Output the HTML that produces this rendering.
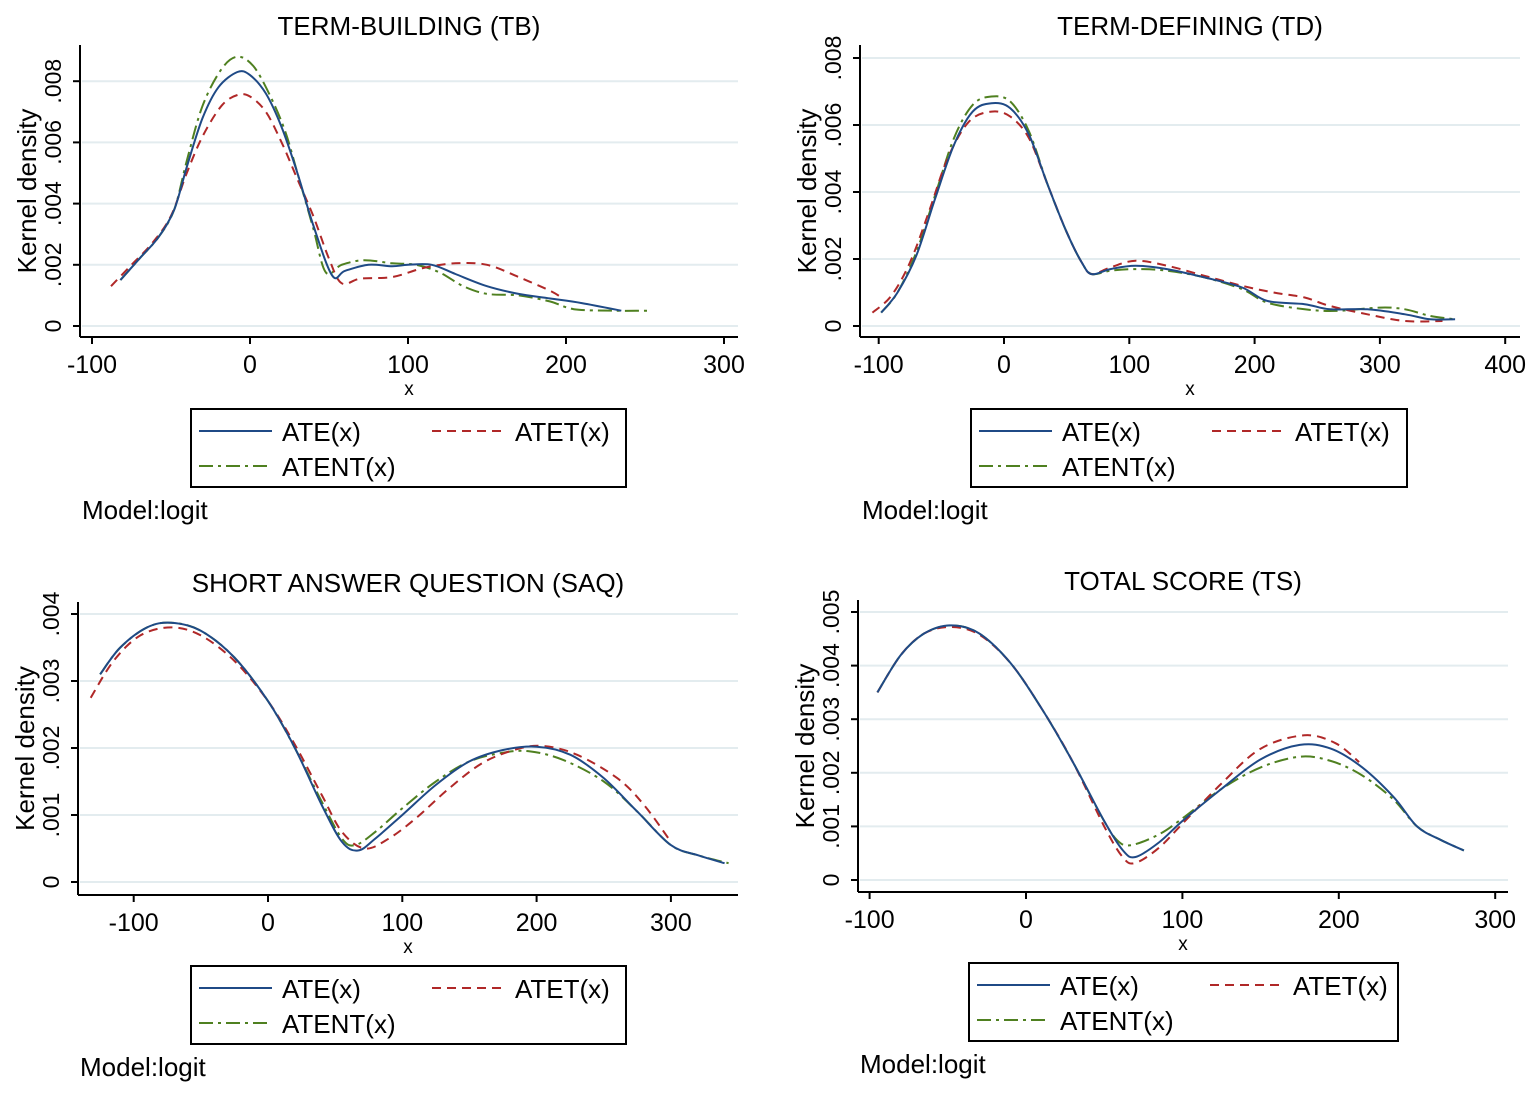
<!DOCTYPE html>
<html><head><meta charset="utf-8"><style>
body{margin:0;background:#fff;}
svg{display:block;font-family:"Liberation Sans",Arial,sans-serif;}
</style></head><body>
<svg id="s" width="1535" height="1096" viewBox="0 0 1535 1096" xmlns="http://www.w3.org/2000/svg"></svg>
<script>
const S=document.getElementById('s');let h='';
const C={b:'#1f4a86',r:'#b02828',g:'#4f8020'};
function sm(pts){let d='M'+pts[0][0].toFixed(1)+','+pts[0][1].toFixed(1);
for(let i=0;i<pts.length-1;i++){const p0=pts[i-1]||pts[i],p1=pts[i],p2=pts[i+1],p3=pts[i+2]||p2;
d+=` C${(p1[0]+(p2[0]-p0[0])/6).toFixed(1)},${(p1[1]+(p2[1]-p0[1])/6).toFixed(1)} ${(p2[0]-(p3[0]-p1[0])/6).toFixed(1)},${(p2[1]-(p3[1]-p1[1])/6).toFixed(1)} ${p2[0].toFixed(1)},${p2[1].toFixed(1)}`;}return d;}
function panel(P){
 const X=v=>P.x0+(v-P.xv0)*P.xs, Y=v=>P.y0-v*P.ys;
 P.yt.forEach(t=>{h+=`<line x1="${P.ax+2}" x2="${P.right}" y1="${Y(t)}" y2="${Y(t)}" stroke="#e3ecef" stroke-width="2"/>`;});
 h+=`<line x1="${P.ax}" x2="${P.ax}" y1="${P.top}" y2="${P.axy}" stroke="#000" stroke-width="2"/>`;
 h+=`<line x1="${P.ax}" x2="${P.right}" y1="${P.axy}" y2="${P.axy}" stroke="#000" stroke-width="2"/>`;
 P.yt.forEach(t=>{const y=Y(t);h+=`<line x1="${P.ax-7}" x2="${P.ax}" y1="${y}" y2="${y}" stroke="#000" stroke-width="2"/>`;
  h+=`<text transform="translate(${P.ax-19},${y}) rotate(-90)" text-anchor="middle" font-size="23">${t==0?'0':'.00'+t}</text>`;});
 P.xt.forEach(t=>{const x=X(t);h+=`<line x1="${x}" x2="${x}" y1="${P.axy}" y2="${P.axy+7}" stroke="#000" stroke-width="2"/>`;
  h+=`<text x="${x}" y="${P.axy+36}" text-anchor="middle" font-size="25">${t}</text>`;});
 const cx=(P.ax+P.right)/2;
 h+=`<text x="${cx}" y="${P.axy+58}" text-anchor="middle" font-size="19">x</text>`;
 h+=`<text x="${cx}" y="${P.top-10}" text-anchor="middle" font-size="26">${P.title}</text>`;
 h+=`<text transform="translate(${P.ax-44},${(P.top+P.axy)/2}) rotate(-90)" text-anchor="middle" font-size="26">Kernel density</text>`;
 const dash={b:'',r:'stroke-dasharray="9,6"',g:'stroke-dasharray="14,5,3,5"'};
 ['g','r','b'].forEach(k=>{const pts=P[k].map(p=>[X(p[0]),Y(p[1])]);h+=`<path d="${sm(pts)}" fill="none" stroke="${C[k]}" stroke-width="2" ${dash[k]}/>`;});
 const L=P.leg;h+=`<rect x="${L[0]}" y="${L[1]}" width="${L[2]}" height="78" fill="#fff" stroke="#000" stroke-width="2"/>`;
 const lx=L[0]+8,ly=L[1];
 h+=`<line x1="${lx}" x2="${lx+73}" y1="${ly+22}" y2="${ly+22}" stroke="${C.b}" stroke-width="2"/>`;
 h+=`<text x="${lx+83}" y="${ly+32}" font-size="26">ATE(x)</text>`;
 h+=`<line x1="${lx+233}" x2="${lx+306}" y1="${ly+22}" y2="${ly+22}" stroke="${C.r}" stroke-width="2" ${dash.r}/>`;
 h+=`<text x="${lx+316}" y="${ly+32}" font-size="26">ATET(x)</text>`;
 h+=`<line x1="${lx}" x2="${lx+73}" y1="${ly+57}" y2="${ly+57}" stroke="${C.g}" stroke-width="2" ${dash.g}/>`;
 h+=`<text x="${lx+83}" y="${ly+67}" font-size="26">ATENT(x)</text>`;
 h+=`<text x="${P.ax+2}" y="${L[1]+110}" font-size="26">Model:logit</text>`;
}
panel({title:'TERM-BUILDING (TB)',x0:250,xv0:0,xs:1.58,y0:326,ys:30.6,ax:80,axy:337,top:45,right:738,
 yt:[0,2,4,6,8],xt:[-100,0,100,200,300],leg:[191,409,435],
 b:[[-82,1.5],[-70,2.2],[-58,2.9],[-48,3.8],[-40,5.2],[-30,6.8],[-20,7.8],[-8,8.3],[0,8.2],[10,7.6],[20,6.5],[30,5.0],[40,3.3],[52,1.65],[60,1.8],[75,2.0],[90,1.95],[100,2.0],[115,2.0],[130,1.7],[150,1.3],[170,1.05],[190,0.9],[210,0.75],[235,0.5]],
 g:[[-82,1.5],[-70,2.2],[-58,2.9],[-48,3.8],[-40,5.4],[-30,7.2],[-18,8.4],[-8,8.8],[2,8.5],[12,7.6],[22,6.4],[30,5.0],[40,3.2],[48,1.75],[58,2.0],[72,2.15],[90,2.05],[105,2.0],[120,1.75],[135,1.3],[150,1.05],[170,1.0],[190,0.8],[205,0.55],[230,0.5],[252,0.5]],
 r:[[-88,1.3],[-75,2.0],[-62,2.7],[-50,3.6],[-40,5.0],[-30,6.2],[-18,7.2],[-8,7.55],[0,7.5],[10,7.0],[20,6.0],[30,4.8],[40,3.6],[50,2.2],[58,1.4],[70,1.55],[90,1.6],[110,1.9],[130,2.05],[150,2.0],[170,1.6],[190,1.15],[198,0.9]]});
panel({title:'TERM-DEFINING (TD)',x0:1004,xv0:0,xs:1.253,y0:326,ys:33.5,ax:860,axy:337,top:45,right:1520,
 yt:[0,2,4,6,8],xt:[-100,0,100,200,300,400],leg:[971,409,436],
 b:[[-98,0.4],[-85,1.0],[-70,2.1],[-55,3.8],[-40,5.4],[-25,6.4],[-10,6.65],[5,6.5],[20,5.7],[35,4.2],[50,2.8],[62,1.9],[70,1.55],[85,1.7],[105,1.8],[130,1.7],[160,1.45],[190,1.15],[210,0.75],[240,0.65],[260,0.5],[290,0.5],[320,0.35],[340,0.2],[360,0.2]],
 g:[[-98,0.4],[-85,1.0],[-70,2.2],[-55,3.9],[-40,5.6],[-25,6.6],[-10,6.85],[5,6.7],[20,5.8],[35,4.2],[50,2.8],[62,1.9],[70,1.55],[85,1.65],[105,1.7],[130,1.65],[160,1.45],[190,1.1],[210,0.7],[240,0.5],[265,0.45],[300,0.55],[320,0.5],[340,0.3],[360,0.2]],
 r:[[-105,0.4],[-90,0.9],[-75,1.9],[-60,3.4],[-45,5.0],[-28,6.1],[-10,6.4],[5,6.25],[20,5.6],[35,4.2],[50,2.8],[62,1.9],[70,1.55],[85,1.75],[105,1.95],[130,1.8],[160,1.5],[190,1.2],[215,1.0],[240,0.85],[260,0.6],[290,0.35],[320,0.15],[350,0.15]]});
panel({title:'SHORT ANSWER QUESTION (SAQ)',x0:268,xv0:0,xs:1.343,y0:882,ys:67,ax:78,axy:895,top:602,right:738,
 yt:[0,1,2,3,4],xt:[-100,0,100,200,300],leg:[191,966,435],
 b:[[-125,3.1],[-110,3.5],[-90,3.8],[-72,3.87],[-50,3.75],[-25,3.35],[0,2.7],[20,2.0],[40,1.15],[55,0.6],[67,0.47],[80,0.65],[100,1.0],[125,1.45],[150,1.8],[175,1.97],[200,2.02],[225,1.9],[250,1.55],[275,1.05],[300,0.55],[320,0.4],[340,0.28]],
 g:[[-125,3.1],[-110,3.5],[-90,3.8],[-72,3.87],[-50,3.75],[-25,3.35],[0,2.7],[20,2.0],[40,1.2],[55,0.65],[65,0.55],[80,0.75],[100,1.1],[125,1.5],[150,1.8],[175,1.93],[195,1.95],[220,1.82],[250,1.5],[275,1.05],[300,0.55],[320,0.4],[343,0.28]],
 r:[[-132,2.75],[-115,3.3],[-95,3.68],[-72,3.8],[-50,3.68],[-25,3.3],[0,2.7],[20,2.05],[40,1.3],[55,0.75],[72,0.5],[90,0.65],[110,0.95],[135,1.4],[160,1.78],[185,1.98],[205,2.03],[230,1.9],[260,1.55],[280,1.15],[300,0.6]]});
panel({title:'TOTAL SCORE (TS)',x0:1026,xv0:0,xs:1.564,y0:880,ys:53.6,ax:858,axy:892,top:600,right:1508,
 yt:[0,1,2,3,4,5],xt:[-100,0,100,200,300],leg:[969,963,429],
 b:[[-95,3.5],[-80,4.2],[-65,4.6],[-48,4.75],[-30,4.6],[-10,4.05],[10,3.2],[30,2.2],[50,1.1],[62,0.55],[70,0.43],[85,0.7],[100,1.1],[125,1.7],[150,2.25],[175,2.52],[195,2.45],[215,2.1],[235,1.55],[250,1.0],[265,0.75],[280,0.55]],
 g:[[-95,3.5],[-80,4.2],[-65,4.6],[-48,4.75],[-30,4.6],[-10,4.05],[10,3.2],[30,2.2],[48,1.2],[58,0.75],[67,0.65],[85,0.85],[100,1.15],[125,1.7],[150,2.1],[175,2.3],[195,2.22],[215,1.95],[235,1.5],[250,1.0],[265,0.75],[280,0.55]],
 r:[[-95,3.5],[-80,4.2],[-65,4.6],[-48,4.72],[-30,4.58],[-10,4.05],[10,3.2],[30,2.2],[50,1.0],[62,0.42],[70,0.32],[85,0.6],[100,1.05],[125,1.8],[150,2.45],[178,2.7],[198,2.55],[213,2.2]]});
S.innerHTML=h;
</script>
</body></html>
